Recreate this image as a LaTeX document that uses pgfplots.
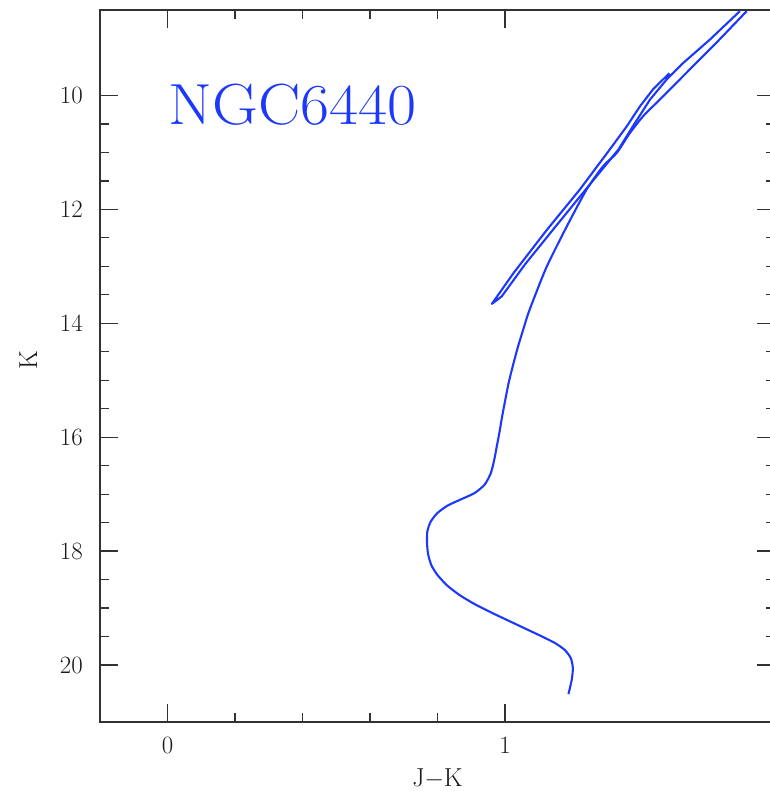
\documentclass[border=0pt]{standalone}
\usepackage{graphicx}
\usepackage{pgfplots}
\pgfplotsset{compat=1.18}

\definecolor{isoblue}{RGB}{28,56,250}
\definecolor{framegray}{RGB}{50,50,50}

% Isochrone: main sequence, turn-off, subgiant and red giant branch (J-K, K)
\pgfplotstableread{
x      y
1.188  20.51
1.198  20.25
1.201  20.05
1.195  19.88
1.178  19.74
1.150  19.62
1.110  19.50
1.060  19.36
1.010  19.22
0.960  19.08
0.910  18.93
0.865  18.77
0.828  18.60
0.800  18.42
0.782  18.25
0.772  18.05
0.769  17.85
0.770  17.65
0.780  17.48
0.800  17.33
0.830  17.20
0.870  17.09
0.910  16.98
0.940  16.83
0.958  16.63
0.968  16.40
0.976  16.15
0.984  15.90
0.992  15.62
1.001  15.34
1.011  15.04
1.024  14.73
1.038  14.42
1.054  14.11
1.067  13.86
1.084  13.59
1.124  13.00
1.183  12.30
1.242  11.65
1.291  11.24
1.331  11.01
1.370  10.66
1.410  10.36
1.459  10.07
1.538   9.60
1.627   9.07
1.716   8.52
}\rgbtable

% Horizontal branch and asymptotic giant branch
\pgfplotstableread{
x      y
1.487   9.61
1.439   9.89
1.400  10.19
1.361  10.54
1.314  10.92
1.222  11.65
1.124  12.36
1.025  13.12
0.961  13.66
0.990  13.53
1.060  12.96
1.150  12.30
1.260  11.50
1.336  10.95
1.379  10.54
1.430  10.07
1.479   9.72
1.528   9.43
1.607   9.02
1.696   8.52
}\agbtable

\begin{document}
\begin{tikzpicture}
\begin{axis}[
    scale only axis,
    width=675pt, height=712pt,
    xmin=-0.2, xmax=1.8,
    ymin=8.5, ymax=21,
    y dir=reverse,
    xtick={0,1}, minor x tick num=4,
    ytick={10,12,14,16,18,20}, minor y tick num=3,
    tick align=inside,
    major tick length=18pt, minor tick length=9pt,
    major tick style={framegray, line width=1.3pt},
    minor tick style={framegray, line width=1.3pt},
    axis line style={framegray, line width=1.6pt},
    tick label style={font=\fontsize{28}{30}\selectfont, text=black!90},
    yticklabel style={inner sep=0pt, anchor=east, xshift=-17pt},
    xticklabel style={inner sep=0pt, anchor=north, yshift=-15pt},
    xlabel={J$-$K},
    ylabel={K},
    label style={font=\fontsize{26}{28}\selectfont, text=black!90},
    xlabel style={at={(axis cs:0.8,21)}, anchor=base, inner sep=0pt, yshift=-64pt},
    ylabel style={at={(axis description cs:-0.0933,0.508)}, anchor=base, inner sep=0pt},
    clip=true,
]
\addplot[isoblue, line width=2.1pt, line join=round, smooth, tension=0.4] table[x=x, y=y] {\rgbtable};
\addplot[isoblue, line width=2.1pt, line join=round] table[x=x, y=y] {\agbtable};
\node[anchor=base west, inner sep=0pt, text=isoblue, font=\fontsize{58}{62}\selectfont] at (axis cs:0.003,10.51) {\scalebox{1.09}[1]{NGC6440}};
\coordinate (sw) at (rel axis cs:0,0);
\end{axis}
\pgfresetboundingbox
\useasboundingbox (sw) ++(-100pt,-69pt) rectangle ++(769pt,791pt);
\end{tikzpicture}
\end{document}
